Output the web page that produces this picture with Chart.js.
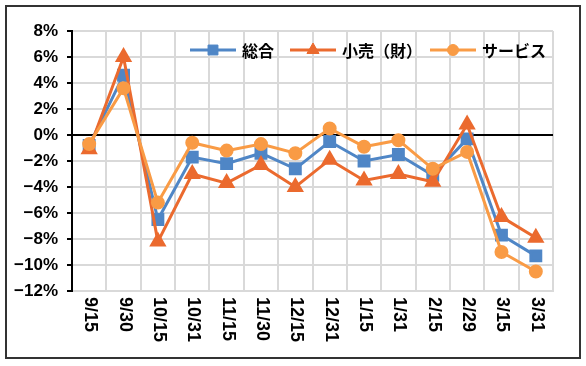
<!DOCTYPE html>
<html>
<head>
<meta charset="utf-8">
<script src="https://cdn.jsdelivr.net/npm/chart.js@4/dist/chart.umd.min.js"></script>
<style>
html,body{margin:0;padding:0;background:#fff;}
#wrap{position:relative;width:586px;height:366px;}
</style>
</head>
<body>
<div id="wrap"><canvas id="c" width="586" height="366"></canvas></div>
<script>
const categories = ['9/15','9/30','10/15','10/31','11/15','11/30','12/15','12/31','1/15','1/31','2/15','2/29','3/15','3/31'];
const seriesNames = ['総合','小売（財）','サービス'];
const sogo    = [-0.8, 4.6, -6.5, -1.7, -2.2, -1.4, -2.6, -0.5, -2.0, -1.5, -3.1, -0.3, -7.7, -9.3];
const kouri   = [-1.1, 6.0, -8.2, -3.0, -3.7, -2.3, -4.0, -1.9, -3.5, -3.0, -3.6,  0.8, -6.3, -7.9];
const service = [-0.7, 3.6, -5.2, -0.6, -1.2, -0.7, -1.4,  0.5, -0.9, -0.4, -2.6, -1.3, -9.0, -10.5];
const yTicks = {min: -12, max: 8, step: 2};

const colors = ['#4F86C6', '#EB6A2E', '#F99B45'];
const styles = ['rect', 'triangle', 'circle'];
const radii = [7, 7, 5.5];

const tickFont = {family: '"Liberation Sans", Arial, sans-serif', weight: 'bold', size: 17};

function fmtPct(v) {
  if (v === 0) return '0%';
  return (v < 0 ? '\u2212' + Math.abs(v) : String(v)) + '%';
}

const extras = {
  id: 'extras',
  beforeDraw(chart) {
    const ctx = chart.ctx;
    ctx.save();
    ctx.fillStyle = '#fff';
    ctx.fillRect(0, 0, chart.width, chart.height);
    ctx.restore();
  },
  afterDraw(chart) {
    const ctx = chart.ctx;
    const xs = chart.scales.x;
    // rotated x labels (clockwise)
    ctx.save();
    ctx.fillStyle = '#000';
    ctx.font = 'bold 18px "Liberation Sans", Arial, sans-serif';
    ctx.textAlign = 'left';
    ctx.textBaseline = 'middle';
    categories.forEach((lab, i) => {
      const x = xs.getPixelForValue(i);
      ctx.save();
      ctx.translate(x + 1, xs.top + 6);
      ctx.rotate(Math.PI / 2);
      ctx.fillText(lab, 0, 0);
      ctx.restore();
    });
    ctx.restore();

    // legend inside plot area
    ctx.save();
    ctx.font = 'bold 16px "Noto Sans CJK JP", sans-serif';
    ctx.textBaseline = 'middle';
    ctx.textAlign = 'left';
    let x = 190;
    const y = 50;
    const gaps = [16, 8, 0];
    chart.data.datasets.forEach((ds, i) => {
      ctx.strokeStyle = ds.borderColor;
      ctx.lineWidth = 3;
      ctx.beginPath();
      ctx.moveTo(x, y);
      ctx.lineTo(x + 46, y);
      ctx.stroke();
      ctx.fillStyle = ds.borderColor;
      ctx.strokeStyle = ds.borderColor;
      ctx.lineWidth = 1;
      Chart.helpers.drawPoint(ctx, {pointStyle: ds.pointStyle, radius: ds.pointRadius, rotation: 0, borderWidth: 1}, x + 23, y);
      ctx.fillStyle = '#000';
      ctx.fillText(ds.label, x + 52, y + 1);
      x += 52 + ctx.measureText(ds.label).width + gaps[i];
    });
    ctx.restore();

    // outer border
    ctx.save();
    ctx.strokeStyle = '#333';
    ctx.lineWidth = 2;
    ctx.strokeRect(6, 6, 574, 352);
    ctx.restore();
  }
};

const data = {
  labels: categories,
  datasets: [sogo, kouri, service].map((arr, i) => ({
    label: seriesNames[i],
    data: arr,
    borderColor: colors[i],
    backgroundColor: colors[i],
    pointBackgroundColor: colors[i],
    pointBorderColor: colors[i],
    pointStyle: styles[i],
    pointRadius: radii[i],
    pointHoverRadius: radii[i],
    borderWidth: 3,
    tension: 0,
    order: 3 - i
  }))
};

new Chart(document.getElementById('c'), {
  type: 'line',
  data: data,
  plugins: [extras],
  options: {
    responsive: false,
    animation: false,
    devicePixelRatio: 1,
    layout: {padding: {top: 31, right: 33, left: 0, bottom: 0}},
    plugins: {legend: {display: false}, tooltip: {enabled: false}},
    scales: {
      x: {
        offset: true,
        grid: {offset: true, color: '#D9D9D9', lineWidth: 2, drawTicks: false},
        border: {color: '#D9D9D9', width: 2},
        ticks: {display: false},
        afterFit(s) { s.height = 75; }
      },
      y: {
        min: yTicks.min,
        max: yTicks.max,
        ticks: {stepSize: yTicks.step, callback: v => fmtPct(v), font: tickFont, color: '#000', padding: 9},
        grid: {
          color: c => (c.tick && c.tick.value === 0) ? '#000' : '#D9D9D9',
          lineWidth: 2,
          tickColor: '#000',
          tickLength: 5,
          drawTicks: true
        },
        border: {color: '#000', width: 2},
        afterFit(s) { s.width = 72; }
      }
    }
  }
});
</script>
</body>
</html>
